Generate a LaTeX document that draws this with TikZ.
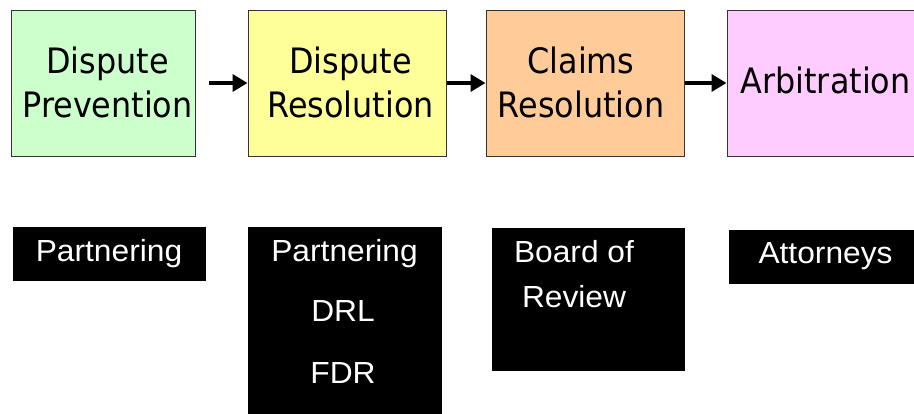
\documentclass[tikz,border=0pt]{standalone}
\usepackage{fontspec}
\newfontfamily\stagefont[FakeStretch=0.91]{DejaVu Sans}
\newfontfamily\toolfont[FakeStretch=1.04]{Liberation Sans}
\usetikzlibrary{arrows.meta}
\definecolor{prevfill}{HTML}{CCFFCC}
\definecolor{resfill}{HTML}{FFFF99}
\definecolor{claimfill}{HTML}{FFCC99}
\definecolor{arbfill}{HTML}{FFCCFF}
\tikzset{
  stage/.style={draw=black!80, line width=1pt, inner sep=0pt,
    minimum height=146pt, minimum width=#1},
  toolbox/.style n args={2}{fill=black, inner sep=0pt,
    minimum width=#1, minimum height=#2},
  stagetext/.style={anchor=base, inner sep=0pt,
    font=\stagefont\fontsize{35}{42}\selectfont},
  tooltext/.style={anchor=base, inner sep=0pt, text=white,
    font=\toolfont\fontsize{30.5}{36}\selectfont},
  flow/.style={line width=3.5pt, -{Triangle[length=15pt,width=17pt]}}
}
\begin{document}
\begin{tikzpicture}[x=1pt,y=-1pt]
  \useasboundingbox (0,0) rectangle (914,413);
  \clip (0,0) rectangle (914,413);

  % process stages
  \node[stage=184pt, fill=prevfill]  (prev)  at (103,83) {};
  \node[stage=198pt, fill=resfill]   (res)   at (347,83) {};
  \node[stage=198pt, fill=claimfill] (claim) at (585,83) {};
  \node[stage=198pt, fill=arbfill]   (arb)   at (826,83.5) {};

  \node[stagetext] (prevA)  at (107.5,73.3) {Dispute};
  \node[stagetext] (prevB)  at (107.5,117.3) {Prevention};
  \node[stagetext] (resA)   at (350.5,73.3) {Dispute};
  \node[stagetext] (resB)   at (350.5,117.3) {Resolution};
  \node[stagetext] (claimA) at (581,73) {Claims};
  \node[stagetext] (claimB) at (581,117.3) {Resolution};
  \node[stagetext] (arbA)   at (825.5,93.3) {Arbitration};

  % flow between stages
  \draw[flow] ([xshift=13pt]prev.east) -- (res.west);
  \draw[flow] (res.east) -- (claim.west);
  \draw[flow] (claim.east) -- (claim.east -| arb.west);

  % tools used at each stage
  \node[toolbox={193pt}{54pt}]  (toolA) at (109.5,254) {};
  \node[toolbox={194pt}{203pt}] (toolB) at (345,328.5) {};
  \node[toolbox={193pt}{143pt}] (toolC) at (588.5,299.5) {};
  \node[toolbox={193pt}{54pt}]  (toolD) at (825.5,257) {};

  \node[tooltext] (partA)  at (109,261) {Partnering};
  \node[tooltext] (partB)  at (344.5,261) {Partnering};
  \node[tooltext] (drl)    at (343,321.7) {DRL};
  \node[tooltext] (fdr)    at (343,383) {FDR};
  \node[tooltext] (board)  at (574,262) {Board of};
  \node[tooltext] (review) at (574,307) {Review};
  \node[tooltext] (atty)   at (825.5,263) {Attorneys};
\end{tikzpicture}
\end{document}
